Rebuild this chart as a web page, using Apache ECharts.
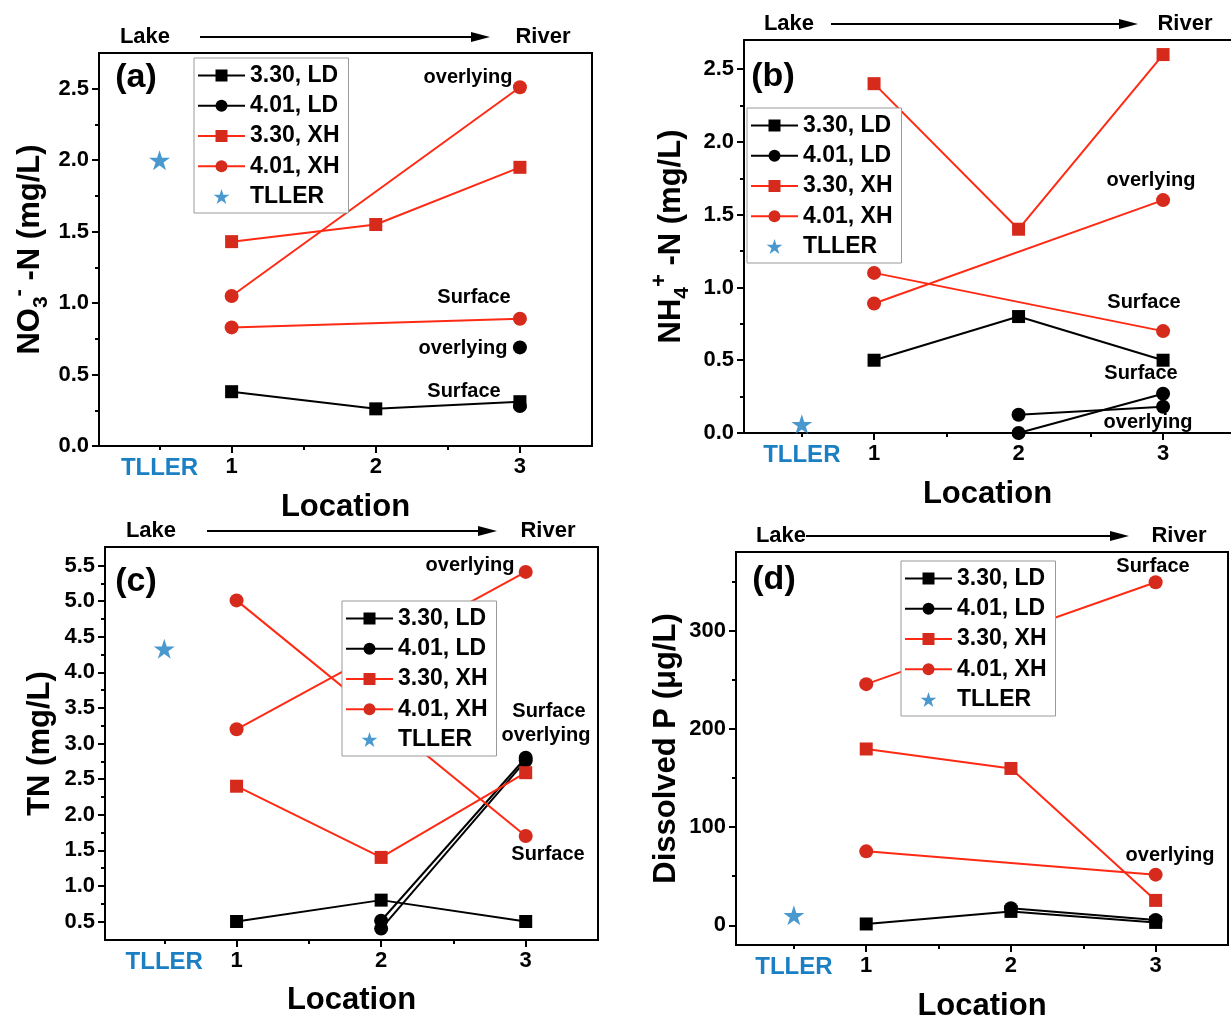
<!DOCTYPE html>
<html><head><meta charset="utf-8">
<script src="https://cdn.jsdelivr.net/npm/echarts@6/dist/echarts.min.js"></script>
<style>html,body{margin:0;padding:0;background:#fff}#c{width:1231px;height:1023px}</style>
</head><body><div id="c"></div>
<script>
// ---------------- DATA ----------------
const locations = [1, 2, 3];
const tllerX = 0.5;
const seriesNames = ['3.30, LD', '4.01, LD', '3.30, XH', '4.01, XH', 'TLLER'];
const xLabelValues = [0.5, 1, 2, 3];
const xMajorTicks = [1, 2, 3];
const xMinorTicks = [0.5, 1.5, 2.5];

// (a) NO3- -N
const a_330LD = [0.38, 0.26, 0.31];
const a_401LD_surface = [null, null, 0.28];
const a_401LD_overlying = [null, null, 0.69];
const a_330XH = [1.43, 1.55, 1.95];
const a_401XH_overlying = [1.05, null, 2.51];
const a_401XH_surface = [0.83, null, 0.89];
const a_TLLER = 2.0;
const a_yLabels = [0, 0.5, 1.0, 1.5, 2.0, 2.5];
const a_yMinor = [0.25, 0.75, 1.25, 1.75, 2.25];

// (b) NH4+ -N
const b_330LD = [0.50, 0.80, 0.50];
const b_401LD_surface = [null, 0.0, 0.27];
const b_401LD_overlying = [null, 0.125, 0.18];
const b_330XH = [2.40, 1.40, 2.60];
const b_401XH_overlying = [0.89, null, 1.60];
const b_401XH_surface = [1.10, null, 0.70];
const b_TLLER = 0.06;
const b_yLabels = [0, 0.5, 1.0, 1.5, 2.0, 2.5];
const b_yMinor = [0.25, 0.75, 1.25, 1.75, 2.25];

// (c) TN
const c_330LD = [0.50, 0.80, 0.50];
const c_401LD_surface = [null, 0.51, 2.80];
const c_401LD_overlying = [null, 0.40, 2.76];
const c_330XH = [2.40, 1.40, 2.59];
const c_401XH_overlying = [3.20, null, 5.41];
const c_401XH_surface = [5.01, null, 1.70];
const c_TLLER = 4.33;
const c_yLabels = [0.5, 1.0, 1.5, 2.0, 2.5, 3.0, 3.5, 4.0, 4.5, 5.0, 5.5];
const c_yMinor = [0.75, 1.25, 1.75, 2.25, 2.75, 3.25, 3.75, 4.25, 4.75, 5.25];

// (d) Dissolved P
const d_330LD = [1.4, 14.2, 3.0];
const d_401LD = [null, 17.5, 5.5];
const d_330XH = [179.5, 159.7, 25.4];
const d_401XH_surface = [245.5, null, 349.2];
const d_401XH_overlying = [75.3, null, 51.6];
const d_TLLER = 10.2;
const d_yLabels = [0, 100, 200, 300];
const d_yMinor = [50, 150, 250, 350];

// ---------------- STYLE / LAYOUT ----------------
const FONT = '"Liberation Sans", Arial, sans-serif';
const BLACK = '#000000', RED_LINE = '#ff2a14', RED_MARK = '#d62a1c', BLUE = '#1b7fc3';
const STAR = 'path://M50,0 L61.2,34.5 L97.6,34.5 L68.2,55.9 L79.4,90.5 L50,69.1 L20.6,90.5 L31.8,55.9 L2.4,34.5 L38.8,34.5 Z';

const panels = [
  { grid: { left: 99, top: 53, width: 493, height: 393 }, box: true, x: [0.08, 3.5], y: [0, 2.75],
    yLabels: a_yLabels, yMinor: a_yMinor, digits: 1,
    yName: '{m|NO}{sub|3}{sup|-}{m| -N (mg/L)}', yGap: 47, xGap: 46,
    legend: { left: 194, top: 58 },
    lines: [['3.30, LD', a_330LD], ['4.01, LD', a_401LD_surface], ['4.01, LD', a_401LD_overlying],
            ['3.30, XH', a_330XH], ['4.01, XH', a_401XH_overlying], ['4.01, XH', a_401XH_surface]],
    tller: a_TLLER },
  { grid: { left: 744, top: 40, width: 487, height: 393 }, box: false, x: [0.10, 3.47], y: [0, 2.70],
    yLabels: b_yLabels, yMinor: b_yMinor, digits: 1,
    yName: '{m|NH}{sub|4}{sup|+}{m| -N (mg/L)}', yGap: 51, xGap: 46,
    legend: { left: 747, top: 108 },
    lines: [['3.30, LD', b_330LD], ['4.01, LD', b_401LD_surface], ['4.01, LD', b_401LD_overlying],
            ['3.30, XH', b_330XH], ['4.01, XH', b_401XH_overlying], ['4.01, XH', b_401XH_surface]],
    tller: b_TLLER },
  { grid: { left: 105, top: 547, width: 493, height: 393 }, box: true, x: [0.09, 3.5], y: [0.24, 5.76],
    yLabels: c_yLabels, yMinor: c_yMinor, digits: 1,
    yName: 'TN (mg/L)', yGap: 49, xGap: 45,
    legend: { left: 342, top: 601 },
    lines: [['3.30, LD', c_330LD], ['4.01, LD', c_401LD_surface], ['4.01, LD', c_401LD_overlying],
            ['3.30, XH', c_330XH], ['4.01, XH', c_401XH_overlying], ['4.01, XH', c_401XH_surface]],
    tller: c_TLLER },
  { grid: { left: 736, top: 552, width: 492, height: 394 }, box: true, x: [0.10, 3.5], y: [-20, 380],
    yLabels: d_yLabels, yMinor: d_yMinor, digits: 0,
    yName: 'Dissolved P (μg/L)', yGap: 54, xGap: 46,
    legend: { left: 901, top: 561 },
    lines: [['3.30, LD', d_330LD], ['4.01, LD', d_401LD],
            ['3.30, XH', d_330XH], ['4.01, XH', d_401XH_surface], ['4.01, XH', d_401XH_overlying]],
    tller: d_TLLER }
];

const annotations = [
  ['overlying', 468, 77], ['Surface', 474, 297], ['overlying', 463, 348], ['Surface', 464, 391],
  ['overlying', 1151, 180], ['Surface', 1144, 302], ['Surface', 1141, 373], ['overlying', 1148, 422],
  ['overlying', 470, 565], ['Surface', 549, 711], ['overlying', 546, 735], ['Surface', 548, 854],
  ['Surface', 1153, 566], ['overlying', 1170, 855]
];
const panelLetters = [['(a)', 136, 78], ['(b)', 773, 77], ['(c)', 136, 582], ['(d)', 774, 580]];
const flowLabels = [
  { lake: [145, 37], river: [543, 37], arrow: [200, 490, 37] },
  { lake: [789, 24], river: [1185, 24], arrow: [831, 1138, 24] },
  { lake: [151, 531], river: [548, 531], arrow: [207, 497, 531] },
  { lake: [781, 536], river: [1179, 536], arrow: [806, 1129, 536] }
];

// ---------------- BUILD ----------------
const grids = [], xAxes = [], yAxes = [], series = [], legends = [], graphics = [];
const tickLabelStyle = { fontFamily: FONT, fontWeight: 'bold', fontSize: 22, color: '#000' };

panels.forEach((p, gi) => {
  grids.push(Object.assign({ show: p.box, borderColor: '#000', borderWidth: 2, backgroundColor: 'transparent' }, p.grid));
  const xMain = xAxes.length;
  xAxes.push({
    gridIndex: gi, type: 'value', min: p.x[0], max: p.x[1], position: 'bottom',
    name: 'Location', nameLocation: 'middle', nameGap: p.xGap,
    nameTextStyle: { fontFamily: FONT, fontWeight: 'bold', fontSize: 31, color: '#000' },
    axisLine: { show: true, onZero: false, lineStyle: { color: '#000', width: 2 } },
    axisTick: { show: true, length: 7, lineStyle: { color: '#000', width: 2 }, customValues: xMajorTicks },
    axisLabel: {
      margin: 10, customValues: xLabelValues,
      formatter: v => (v === tllerX ? '{t|TLLER}' : '{n|' + v + '}'),
      rich: { t: { fontFamily: FONT, fontWeight: 'bold', fontSize: 24, color: BLUE },
              n: { fontFamily: FONT, fontWeight: 'bold', fontSize: 22, color: '#000' } }
    },
    splitLine: { show: false }
  });
  xAxes.push({
    gridIndex: gi, type: 'value', min: p.x[0], max: p.x[1], position: 'bottom',
    axisLine: { show: false, onZero: false },
    axisTick: { show: true, length: 4, lineStyle: { color: '#000', width: 2 }, customValues: xMinorTicks },
    axisLabel: { show: false }, splitLine: { show: false }
  });
  if (!p.box) {
    xAxes.push({
      gridIndex: gi, type: 'value', min: p.x[0], max: p.x[1], position: 'top',
      axisLine: { show: true, onZero: false, lineStyle: { color: '#000', width: 2 } },
      axisTick: { show: false }, axisLabel: { show: false }, splitLine: { show: false }
    });
  }
  const yMain = yAxes.length;
  yAxes.push({
    gridIndex: gi, type: 'value', min: p.y[0], max: p.y[1], position: 'left',
    name: p.yName, nameLocation: 'middle', nameGap: p.yGap,
    nameTextStyle: {
      fontFamily: FONT, fontWeight: 'bold', fontSize: 31, color: '#000',
      rich: {
        m: { fontFamily: FONT, fontWeight: 'bold', fontSize: 31, color: '#000', lineHeight: 44, verticalAlign: 'middle' },
        sub: { fontFamily: FONT, fontWeight: 'bold', fontSize: 21, color: '#000', lineHeight: 20, verticalAlign: 'bottom' },
        sup: { fontFamily: FONT, fontWeight: 'bold', fontSize: 22, color: '#000', lineHeight: 26, verticalAlign: 'top' }
      }
    },
    axisLine: { show: true, onZero: false, lineStyle: { color: '#000', width: 2 } },
    axisTick: { show: true, length: 7, lineStyle: { color: '#000', width: 2 }, customValues: p.yLabels },
    axisLabel: Object.assign({ margin: 10, customValues: p.yLabels, formatter: v => v.toFixed(p.digits) }, tickLabelStyle),
    splitLine: { show: false }
  });
  yAxes.push({
    gridIndex: gi, type: 'value', min: p.y[0], max: p.y[1], position: 'left',
    axisLine: { show: false, onZero: false },
    axisTick: { show: true, length: 4, lineStyle: { color: '#000', width: 2 }, customValues: p.yMinor },
    axisLabel: { show: false }, splitLine: { show: false }
  });

  p.lines.forEach(([name, vals]) => {
    const isRed = name.indexOf('XH') >= 0;
    const isSquare = name.indexOf('3.30') === 0;
    const data = [];
    locations.forEach((x, k) => { if (vals[k] !== null) data.push([x, vals[k]]); });
    series.push({
      type: 'line', name, xAxisIndex: xMain, yAxisIndex: yMain, data,
      symbol: isSquare ? 'rect' : 'circle', symbolSize: isSquare ? 13 : 14,
      showAllSymbol: true, connectNulls: true,
      lineStyle: { color: isRed ? RED_LINE : BLACK, width: 2 },
      itemStyle: { color: isRed ? RED_MARK : BLACK },
      z: 3
    });
  });
  series.push({
    type: 'scatter', name: 'TLLER', xAxisIndex: xMain, yAxisIndex: yMain,
    data: [[tllerX, p.tller]], symbol: STAR, symbolSize: 21, symbolKeepAspect: true,
    itemStyle: { color: BLUE }, z: 3
  });

  legends.push({
    left: p.legend.left, top: p.legend.top, orient: 'vertical',
    data: seriesNames, selectedMode: false,
    backgroundColor: '#fff', borderColor: '#999', borderWidth: 1,
    padding: [6, 9, 5, 3], itemGap: 7.25, itemWidth: 47, itemHeight: 15,
    symbolKeepAspect: true,
    textStyle: { fontFamily: FONT, fontWeight: 'bold', fontSize: 23, color: '#000' },
    z: 10
  });
});

annotations.forEach(([t, x, y]) => graphics.push({
  type: 'text', z: 20, style: { text: t, x, y, fill: '#000', font: 'bold 20px ' + FONT,
  align: 'center', verticalAlign: 'middle', textAlign: 'center', textVerticalAlign: 'middle' }
}));
panelLetters.forEach(([t, x, y]) => graphics.push({
  type: 'text', z: 20, style: { text: t, x, y, fill: '#000', font: 'bold 34px ' + FONT,
  align: 'center', verticalAlign: 'middle', textAlign: 'center', textVerticalAlign: 'middle' }
}));
flowLabels.forEach(f => {
  [['Lake', f.lake], ['River', f.river]].forEach(([t, pos]) => graphics.push({
    type: 'text', z: 20, style: { text: t, x: pos[0], y: pos[1], fill: '#000', font: 'bold 22px ' + FONT,
    align: 'center', verticalAlign: 'middle', textAlign: 'center', textVerticalAlign: 'middle' }
  }));
  const [x1, x2, y] = f.arrow;
  graphics.push({ type: 'line', z: 20, shape: { x1, y1: y, x2: x2 - 14, y2: y }, style: { stroke: '#000', lineWidth: 2 } });
  graphics.push({ type: 'polygon', z: 20, shape: { points: [[x2, y], [x2 - 19, y - 5], [x2 - 19, y + 5]] }, style: { fill: '#000' } });
});

const chart = echarts.init(document.getElementById('c'), null, { renderer: 'canvas' });
chart.setOption({
  animation: false,
  backgroundColor: '#fff',
  grid: grids, xAxis: xAxes, yAxis: yAxes, series, legend: legends, graphic: graphics
});
</script></body></html>
